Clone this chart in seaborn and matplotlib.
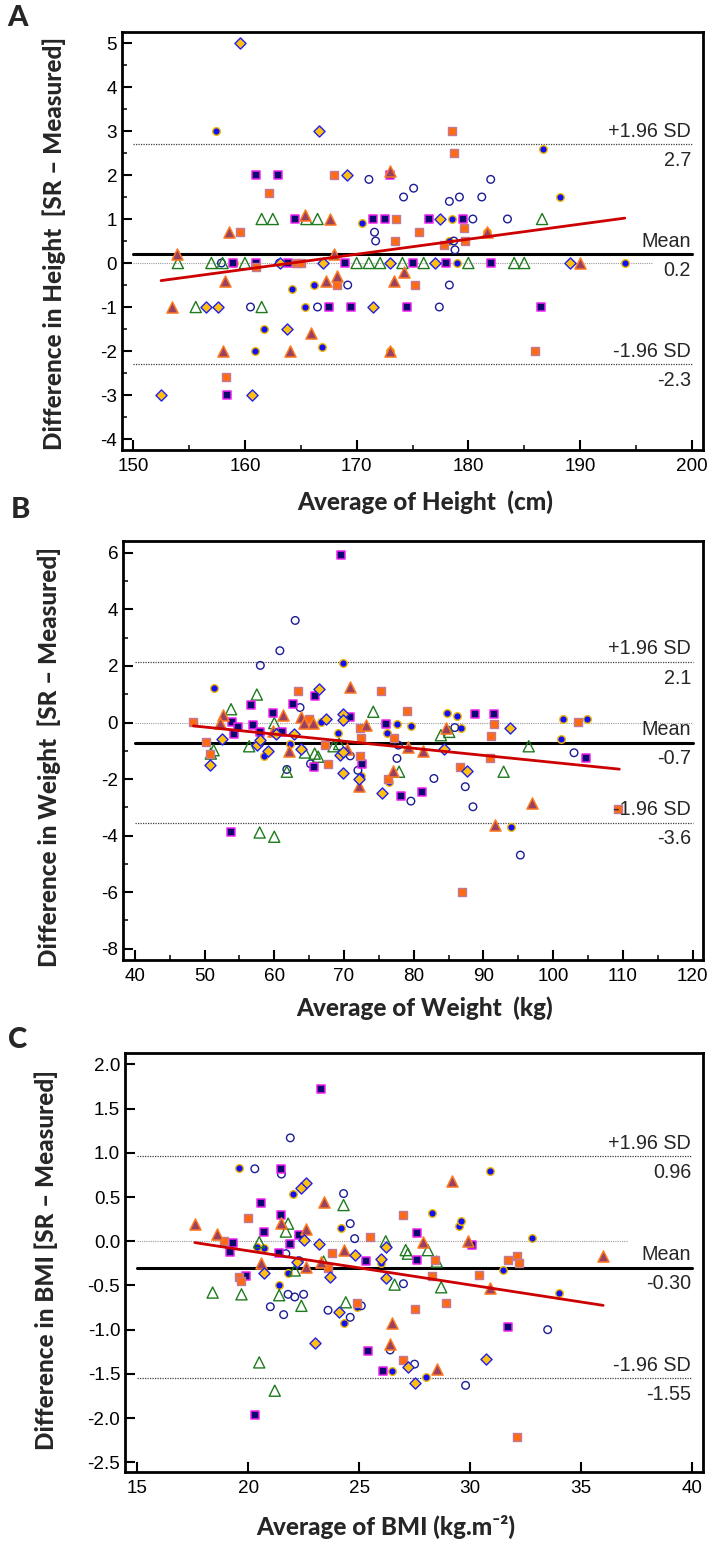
import matplotlib
matplotlib.use("Agg")
import matplotlib.pyplot as plt
import matplotlib.transforms as mtransforms
from matplotlib.ticker import MultipleLocator, FormatStrFormatter
import pandas as pd
import seaborn as sns

# ---------------- Panel A: height (cm) ----------------
height_blue_dot = [(157.4, 3.0), (186.7, 2.6), (188.2, 1.5), (170.5, 0.9), (178.5, 1.0), (178.3, 0.5),
                   (181.7, 0.7), (179.0, 0.0), (194.0, 0.0), (164.2, -0.6), (166.2, -0.5), (165.4, -1.0),
                   (161.7, -1.5), (160.9, -2.0), (166.9, -1.9), (173.0, -2.0), (159.0, 0.0)]
height_open_circle = [(171.1, 1.9), (175.1, 1.7), (174.2, 1.5), (178.3, 1.4), (179.2, 1.5), (181.2, 1.5),
                      (182.0, 1.9), (180.4, 1.0), (183.5, 1.0), (171.6, 0.7), (171.7, 0.5), (178.7, 0.5),
                      (178.8, 0.3), (169.2, -0.5), (178.3, -0.5), (160.5, -1.0), (166.5, -1.0), (177.4, -1.0),
                      (157.9, 0.0), (163.1, 0.0)]
height_green_tri = [(161.5, 1.0), (162.5, 1.0), (165.5, 1.0), (166.5, 1.0), (186.6, 1.0), (154.0, 0.0),
                    (157.0, 0.0), (158.0, 0.0), (160.0, 0.0), (170.0, 0.0), (171.1, 0.0), (172.1, 0.0),
                    (174.1, 0.0), (176.0, 0.0), (180.0, 0.0), (184.1, 0.0), (185.0, 0.0), (155.6, -1.0),
                    (161.5, -1.0)]
height_navy_sq = [(161.0, 2.0), (163.0, 2.0), (173.0, 2.0), (164.5, 1.0), (171.5, 1.0), (172.5, 1.0),
                  (176.5, 1.0), (179.5, 1.0), (158.9, 0.0), (161.0, 0.0), (163.9, 0.0), (169.0, 0.0),
                  (175.0, 0.0), (178.0, 0.0), (182.0, 0.0), (167.5, -1.0), (169.5, -1.0), (174.5, -1.0),
                  (186.5, -1.0), (158.4, -3.0)]
height_orange_sq = [(178.5, 3.0), (178.7, 2.5), (168.0, 2.0), (162.2, 1.6), (159.6, 0.7), (173.5, 1.0),
                    (175.6, 0.7), (173.4, 0.5), (179.6, 0.8), (179.7, 0.5), (177.8, 0.4), (161.0, -0.1),
                    (164.6, 0.0), (165.0, 0.0), (168.2, -0.5), (175.2, -0.5), (186.0, -2.0), (158.3, -2.6)]
height_mauve_tri = [(173.0, 2.1), (158.6, 0.7), (165.4, 1.1), (167.6, 1.0), (181.7, 0.7), (153.9, 0.2),
                    (168.0, 0.2), (190.0, 0.0), (158.2, -0.4), (167.3, -0.4), (168.2, -0.3), (173.3, -0.4),
                    (174.2, -0.2), (153.5, -1.0), (165.9, -1.6), (158.0, -2.0), (164.0, -2.0), (173.0, -2.0)]
height_gold_dia = [(159.6, 5.0), (166.6, 3.0), (169.1, 2.0), (177.5, 1.0), (163.1, 0.0), (167.0, 0.0),
                   (173.0, 0.0), (177.0, 0.0), (189.1, 0.0), (156.5, -1.0), (157.6, -1.0), (171.5, -1.0),
                   (163.8, -1.5), (152.5, -3.0), (160.6, -3.0)]
height_fit_x = [152.5, 194.0]
height_fit_y = [-0.40, 1.02]
height_stats = {"mean": 0.2, "upper": 2.7, "lower": -2.3}
height_labels = {"mean": "0.2", "upper": "2.7", "lower": "-2.3"}

# ---------------- Panel B: weight (kg) ----------------
weight_blue_dot = [(51.4, 1.22), (69.8, 2.1), (69.2, -0.36), (58.5, -1.18), (62.3, -0.76), (66.7, 0.02),
                   (76.2, -0.36), (77.6, -0.06), (79.6, -0.12), (76.5, -2.09), (84.8, 0.32), (86.2, 0.24),
                   (86.8, -0.18), (101.4, 0.11), (101.1, -0.58), (104.9, 0.11), (94.0, -3.69), (57.9, -0.6),
                   (72.5, -1.9)]
weight_open_circle = [(63.0, 3.61), (60.8, 2.54), (58.0, 2.02), (63.7, 0.53), (65.2, -1.46), (70.9, -1.18),
                      (72.0, -1.69), (77.6, -1.27), (79.6, -2.78), (82.9, -1.98), (85.9, -0.18), (87.4, -2.27),
                      (88.5, -2.98), (95.3, -4.69), (103.0, -1.07), (77.8, -0.8), (61.8, -1.66)]
weight_green_tri = [(57.5, 0.99), (53.8, 0.47), (60.0, -0.02), (74.2, 0.38), (51.3, -0.98), (50.9, -1.1),
                    (56.4, -0.84), (61.8, -1.74), (64.4, -1.06), (65.8, -1.1), (66.3, -1.21), (68.5, -0.84),
                    (69.3, -0.76), (77.9, -1.74), (83.9, -0.45), (85.1, -0.33), (92.9, -1.74), (96.5, -0.84),
                    (57.9, -3.89), (60.0, -4.04)]
weight_navy_sq = [(69.5, 5.93), (56.6, 0.61), (59.8, 0.32), (62.7, 0.64), (65.9, 0.94), (53.9, 0.02),
                  (54.2, -0.39), (54.8, -0.15), (57.0, -0.08), (58.0, -0.35), (61.1, -0.35), (70.8, 0.21),
                  (65.7, -1.58), (72.6, -1.47), (76.0, -0.06), (78.2, -2.59), (81.2, -2.45), (88.8, 0.31),
                  (91.5, 0.31), (104.7, -1.26), (53.8, -3.87)]
weight_orange_sq = [(48.4, 0.02), (50.2, -0.68), (50.8, -1.12), (63.4, 1.13), (65.0, 0.11), (67.3, -0.81),
                    (67.7, -1.48), (72.3, -0.19), (72.5, -0.56), (72.3, -1.19), (75.3, 1.11), (77.2, -0.56),
                    (76.3, -1.99), (79.0, 0.41), (86.7, -1.56), (86.9, -5.99), (90.9, -1.27), (91.1, -0.48),
                    (91.5, -0.06), (103.6, 0.02), (109.3, -3.05)]
weight_mauve_tri = [(52.7, 0.28), (52.2, -0.01), (61.3, 0.27), (63.9, 0.18), (64.2, -0.01), (65.6, -0.01),
                    (62.1, -1.01), (70.9, 1.26), (70.5, -0.92), (73.1, -0.09), (72.1, -2.24), (77.1, -1.71),
                    (79.2, -0.86), (81.4, -1.02), (84.6, -0.2), (91.6, -3.61), (97.0, -2.84), (59.8, -0.29)]
weight_gold_dia = [(66.4, 1.2), (67.4, 0.11), (69.8, 0.29), (69.9, 0.08), (52.5, -0.59), (50.8, -1.49),
                   (57.5, -0.8), (57.9, -0.62), (59.1, -1.0), (60.2, -0.4), (62.8, -0.39), (63.8, -0.92),
                   (69.4, -1.15), (69.9, -1.8), (69.9, -1.06), (72.1, -2.0), (75.5, -2.51), (84.4, -0.92),
                   (87.6, -1.71), (93.8, -0.21)]
weight_fit_x = [48.4, 109.5]
weight_fit_y = [-0.12, -1.65]
weight_stats = {"mean": -0.71, "upper": 2.14, "lower": -3.54}
weight_labels = {"mean": "-0.7", "upper": "2.1", "lower": "-3.6"}

# ---------------- Panel C: BMI (kg.m-2) ----------------
bmi_blue_dot = [(19.6, 0.83), (22.0, 0.54), (24.2, 0.15), (21.4, -0.49), (20.7, -0.08), (21.8, -0.36),
                (24.3, -0.93), (24.9, -0.74), (26.0, -0.25), (26.5, -1.47), (28.0, -1.54), (28.3, 0.32),
                (29.5, 0.17), (29.6, 0.23), (30.9, 0.79), (31.5, -0.32), (32.8, 0.04), (34.0, -0.59),
                (20.4, -0.06)]
bmi_open_circle = [(21.9, 1.17), (20.3, 0.82), (21.5, 0.76), (24.3, 0.54), (24.6, 0.2), (24.8, 0.03),
                   (21.0, -0.74), (21.6, -0.83), (21.8, -0.6), (22.1, -0.63), (22.5, -0.6), (23.6, -0.78),
                   (24.6, -0.86), (25.1, -0.73), (27.0, -0.48), (26.4, -1.23), (27.5, -1.39), (29.8, -1.63),
                   (33.5, -1.0), (21.7, -0.14), (22.3, -0.22)]
bmi_green_tri = [(18.4, -0.58), (19.7, -0.6), (20.5, -0.01), (21.8, 0.2), (21.7, 0.11), (21.4, -0.61),
                 (22.1, -0.33), (22.4, -0.73), (23.4, -0.23), (24.3, 0.41), (24.4, -0.69), (26.2, 0.0),
                 (27.1, -0.1), (27.2, -0.14), (28.1, -0.1), (28.5, -0.23), (28.7, -0.52), (26.6, -0.49),
                 (20.5, -1.37), (21.2, -1.69)]
bmi_navy_sq = [(23.3, 1.72), (21.5, 0.82), (20.6, 0.43), (21.5, 0.3), (20.7, 0.11), (22.3, 0.07),
               (19.3, -0.02), (19.2, -0.12), (21.9, -0.03), (21.4, -0.13), (19.9, -0.39), (25.3, -0.22),
               (27.6, -0.21), (27.6, 0.09), (30.1, -0.04), (31.7, -0.97), (25.4, -1.24), (26.1, -1.47),
               (20.3, -1.96)]
bmi_orange_sq = [(20.0, 0.26), (18.9, 0.0), (19.6, -0.40), (19.7, -0.45), (23.8, -0.13), (23.6, -0.30),
                 (25.5, 0.05), (27.0, 0.3), (28.4, -0.21), (28.3, -0.39), (27.5, -0.77), (28.9, -0.7),
                 (24.9, -0.7), (27.0, -1.34), (30.4, -0.38), (31.7, -0.21), (32.1, -0.17), (32.2, -0.25),
                 (32.1, -2.21)]
bmi_mauve_tri = [(17.6, 0.2), (18.6, 0.08), (20.6, -0.25), (21.5, 0.21), (22.6, 0.14), (22.6, -0.29),
                 (23.4, 0.44), (23.3, -0.23), (24.3, -0.1), (26.5, -0.92), (26.4, -1.16), (27.9, -0.01),
                 (29.2, 0.68), (28.5, -1.44), (29.9, 0.0), (30.9, -0.53), (36.0, -0.17)]
bmi_gold_dia = [(22.6, 0.66), (22.4, 0.6), (22.5, 0.02), (23.2, -0.03), (22.2, -0.23), (20.7, -0.36),
                (23.7, -0.4), (24.8, -0.16), (26.0, -0.2), (26.2, -0.07), (26.2, -0.42), (24.1, -0.8),
                (23.0, -1.15), (27.2, -1.42), (27.5, -1.6), (30.7, -1.33)]
bmi_fit_x = [17.6, 36.0]
bmi_fit_y = [-0.015, -0.725]
bmi_stats = {"mean": -0.30, "upper": 0.96, "lower": -1.55}
bmi_labels = {"mean": "-0.30", "upper": "0.96", "lower": "-1.55"}

# marker styles of the seven groups
STYLES = {
    "blue_dot":    dict(marker="o", s=30, color="#1010F5", edgecolor="#F2B800", linewidth=1.0),
    "open_circle": dict(marker="o", s=30, color="#1C1C96", facecolor="none", edgecolor="#1C1C96", linewidth=1.0),
    "green_tri":   dict(marker="^", s=64, color="#1E7A1E", facecolor="none", edgecolor="#1E7A1E", linewidth=1.0),
    "navy_sq":     dict(marker="s", s=32, color="#0A0A6E", edgecolor="#F020F0", linewidth=1.1),
    "orange_sq":   dict(marker="s", s=40, color="#FF6A10", edgecolor="#C07A95", linewidth=1.0),
    "mauve_tri":   dict(marker="^", s=64, color="#9A4060", edgecolor="#FF7A20", linewidth=1.1),
    "gold_dia":    dict(marker="D", s=32, color="#FFC010", edgecolor="#2020F0", linewidth=1.0),
}


def to_frame(groups):
    rows = []
    for name, pts in groups.items():
        for x, y in pts:
            rows.append({"avg": x, "diff": y, "group": name})
    return pd.DataFrame(rows)


panels = [
    dict(letter="A", rect=[122, 32, 703, 450],
         data=to_frame({"blue_dot": height_blue_dot, "open_circle": height_open_circle,
                        "green_tri": height_green_tri, "navy_sq": height_navy_sq,
                        "orange_sq": height_orange_sq, "mauve_tri": height_mauve_tri,
                        "gold_dia": height_gold_dia}),
         fit=(height_fit_x, height_fit_y), stats=height_stats, labels=height_labels,
         xlim=(149, 201), ylim=(-4.25, 5.25), xstep=(10, 5), ystep=(1, 0.5), yfmt="%d",
         span=(150, 200), zero_end=196.5,
         xlabel="Average of Height  (cm)", xlabel_pos=(425, 502),
         ylabel="Difference in Height  [SR \u2013 Measured]", ylabel_pos=(54, 243),
         letter_pos=(18, 18)),
    dict(letter="B", rect=[123, 541, 703, 960],
         data=to_frame({"blue_dot": weight_blue_dot, "open_circle": weight_open_circle,
                        "green_tri": weight_green_tri, "navy_sq": weight_navy_sq,
                        "orange_sq": weight_orange_sq, "mauve_tri": weight_mauve_tri,
                        "gold_dia": weight_gold_dia}),
         fit=(weight_fit_x, weight_fit_y), stats=weight_stats, labels=weight_labels,
         xlim=(38.3, 121.5), ylim=(-8.4, 6.42), xstep=(10, 5), ystep=(2, 1), yfmt="%d",
         span=(40, 120), zero_end=120,
         xlabel="Average of Weight  (kg)", xlabel_pos=(425, 1008),
         ylabel="Difference in Weight  [SR \u2013 Measured]", ylabel_pos=(49, 757),
         letter_pos=(20, 510)),
    dict(letter="C", rect=[125, 1053, 703, 1472],
         data=to_frame({"blue_dot": bmi_blue_dot, "open_circle": bmi_open_circle,
                        "green_tri": bmi_green_tri, "navy_sq": bmi_navy_sq,
                        "orange_sq": bmi_orange_sq, "mauve_tri": bmi_mauve_tri,
                        "gold_dia": bmi_gold_dia}),
         fit=(bmi_fit_x, bmi_fit_y), stats=bmi_stats, labels=bmi_labels,
         xlim=(14.45, 40.5), ylim=(-2.61, 2.13), xstep=(5, None), ystep=(0.5, None), yfmt="%.1f",
         span=(15, 40), zero_end=37.1,
         xlabel="Average of BMI (kg.m\u207b\u00b2)", xlabel_pos=(386, 1527),
         ylabel="Difference in BMI [SR \u2013 Measured]", ylabel_pos=(46, 1260),
         letter_pos=(18, 1040)),
]

sns.set_theme(style="white")
plt.rcParams["font.family"] = ["Liberation Sans", "DejaVu Sans"]
plt.rcParams["axes.unicode_minus"] = False

W, H = 710, 1541
fig = plt.figure(figsize=(W / 100, H / 100), dpi=100)
label_font = ["Lato", "DejaVu Sans"]

for p in panels:
    l, t, r, b = p["rect"]
    ax = fig.add_axes([l / W, 1 - b / H, (r - l) / W, (b - t) / H])
    df = p["data"]

    for name, st in STYLES.items():
        sub = df[df["group"] == name]
        sns.scatterplot(data=sub, x="avg", y="diff", ax=ax, legend=False, zorder=3, **st)

    x0, x1 = p["span"]
    ax.plot([x0, p["zero_end"]], [0, 0], color="#9a9a9a", lw=0.8, ls=(0, (1, 1)), zorder=1)
    ax.plot([x0, x1], [p["stats"]["upper"]] * 2, color="#404040", lw=0.9, ls=(0, (1, 1)), zorder=1)
    ax.plot([x0, x1], [p["stats"]["lower"]] * 2, color="#404040", lw=0.9, ls=(0, (1, 1)), zorder=1)
    ax.plot([x0, x1], [p["stats"]["mean"]] * 2, color="black", lw=2.2, zorder=2)
    fx, fy = p["fit"]
    sns.lineplot(x=fx, y=fy, ax=ax, color="#CC0000", lw=2.0, zorder=4)

    # labels at the right end of the reference lines
    trans = mtransforms.blended_transform_factory(ax.transAxes, ax.transData)
    xr = (691 - l) / (r - l)
    for key, above in [("upper", "+1.96 SD"), ("mean", "Mean"), ("lower", "-1.96 SD")]:
        yv = p["stats"][key]
        ax.annotate(above, (xr, yv), xycoords=trans, xytext=(0, 5.5), textcoords="offset points",
                    ha="right", va="baseline", fontsize=14.2, zorder=5)
        ax.annotate(p["labels"][key], (xr, yv), xycoords=trans, xytext=(0, -15.5),
                    textcoords="offset points", ha="right", va="baseline", fontsize=14.2, zorder=5)

    ax.set_xlim(*p["xlim"])
    ax.set_ylim(*p["ylim"])
    ax.xaxis.set_major_locator(MultipleLocator(p["xstep"][0]))
    if p["xstep"][1]:
        ax.xaxis.set_minor_locator(MultipleLocator(p["xstep"][1]))
    ax.yaxis.set_major_locator(MultipleLocator(p["ystep"][0]))
    if p["ystep"][1]:
        ax.yaxis.set_minor_locator(MultipleLocator(p["ystep"][1]))
    ax.yaxis.set_major_formatter(FormatStrFormatter(p["yfmt"]))
    ax.xaxis.set_major_formatter(FormatStrFormatter("%d"))

    # ticks drawn inward
    ax.tick_params(which="major", direction="in", length=7, width=1.5, labelsize=13.6,
                   colors="black", bottom=True, left=True, top=False, right=False)
    ax.tick_params(which="minor", direction="in", length=3.6, width=1.3, bottom=True, left=True,
                   top=False, right=False)
    ax.tick_params(axis="y", which="both", pad=3.5)
    ax.tick_params(axis="x", which="both", pad=6)
    for sp in ax.spines.values():
        sp.set_linewidth(2.0)
        sp.set_color("black")
    ax.set_xlabel("")
    ax.set_ylabel("")

    fig.text(p["xlabel_pos"][0] / W, 1 - p["xlabel_pos"][1] / H, p["xlabel"], ha="center", va="center",
             fontsize=17.5, fontweight=900, family=label_font)
    fig.text(p["ylabel_pos"][0] / W, 1 - p["ylabel_pos"][1] / H, p["ylabel"], ha="center", va="center",
             rotation=90, fontsize=17.5, fontweight=900, family=label_font)
    fig.text(p["letter_pos"][0] / W, 1 - p["letter_pos"][1] / H, p["letter"], ha="center", va="center",
             fontsize=21, fontweight=900, family=label_font)

fig.savefig("out.png", dpi=100)
